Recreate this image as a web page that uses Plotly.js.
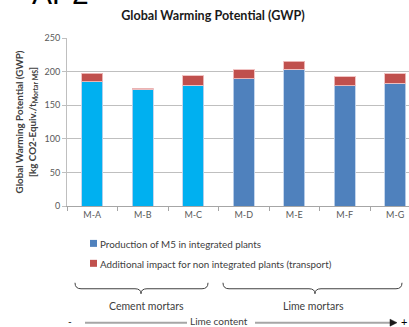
<!DOCTYPE html>
<html>
<head>
<meta charset="utf-8">
<script src="https://cdn.plot.ly/plotly-3.0.1.min.js"></script>
<style>html,body{margin:0;padding:0;background:#fff;}#chart{width:409px;height:327px;}</style>
</head>
<body>
<div id="chart"></div>
<script>
// ---- data ----
const categories = ["M-A", "M-B", "M-C", "M-D", "M-E", "M-F", "M-G"];
const production = [185, 173.5, 180, 189, 203.5, 179, 183];
const additional = [12.5, 1.5, 13.5, 13.5, 12, 13.5, 13.5];
const seriesNames = ["Production of M5 in integrated plants",
                     "Additional impact for non integrated plants (transport)"];
const groupLabels = ["Cement mortars", "Lime mortars"];
const yTicks = [0, 50, 100, 150, 200, 250];

// ---- styling ----
const W = 409, H = 327;
const ML = 67, MR = 0, MT = 37.5, MB = 121;
const PW = W - ML - MR, PH = H - MT - MB;
const lightBlue = "#00B0F0", steelBlue = "#4F81BD", red = "#C0504D";
const prodColors = categories.map((c, i) => i < 3 ? lightBlue : steelBlue);
const FONT = "Lato, 'Open Sans', sans-serif";

// pixel -> paper helpers (for decorations outside the plot)
const px = x => (x - ML) / PW;
const py = y => (MT + PH - y) / PH;
const pt = (x, y) => px(x).toFixed(4) + "," + py(y).toFixed(4);

function brace(x0, x1, xm, y0) {
  const d = 6, t = 11;
  return "M" + pt(x0, y0) +
    " Q" + pt(x0, y0 + d) + " " + pt(x0 + 6, y0 + d) +
    " L" + pt(xm - 6, y0 + d) +
    " Q" + pt(xm, y0 + d) + " " + pt(xm, y0 + t) +
    " Q" + pt(xm, y0 + d) + " " + pt(xm + 6, y0 + d) +
    " L" + pt(x1 - 6, y0 + d) +
    " Q" + pt(x1, y0 + d) + " " + pt(x1, y0);
}

const traces = [
  {type: "bar", x: categories, y: production, name: seriesNames[0],
   marker: {color: prodColors, line: {color: "rgba(190,210,235,0.9)", width: 1}},
   showlegend: false, hoverinfo: "x+y"},
  {type: "bar", x: categories, y: additional, name: seriesNames[1],
   marker: {color: red, line: {color: "rgba(240,190,190,0.9)", width: 1}},
   showlegend: false, hoverinfo: "x+y"}
];

const shapes = [
  // legend swatches
  {type: "rect", xref: "paper", yref: "paper", x0: px(90), x1: px(97), y0: py(240), y1: py(247),
   fillcolor: steelBlue, line: {width: 0}},
  {type: "rect", xref: "paper", yref: "paper", x0: px(90), x1: px(97), y0: py(260), y1: py(267),
   fillcolor: red, line: {width: 0}},
  // braces
  {type: "path", xref: "paper", yref: "paper", path: brace(75, 208, 141, 283),
   line: {color: "#404040", width: 1}},
  {type: "path", xref: "paper", yref: "paper", path: brace(223, 402, 315, 283),
   line: {color: "#404040", width: 1}},
  // lime content arrow
  {type: "line", xref: "paper", yref: "paper", x0: px(85), x1: px(187), y0: py(323), y1: py(323),
   line: {color: "#A6A6A6", width: 2}},
  {type: "line", xref: "paper", yref: "paper", x0: px(255), x1: px(391), y0: py(323), y1: py(323),
   line: {color: "#A6A6A6", width: 2}},
  {type: "path", xref: "paper", yref: "paper",
   path: "M" + pt(390, 319.5) + " L" + pt(397, 323) + " L" + pt(390, 326.5) + " Z",
   fillcolor: "#1a1a1a", line: {color: "#1a1a1a", width: 0.5}}
];

const ann = (x, y, text, opts) => Object.assign({
  xref: "paper", yref: "paper", x: px(x), y: py(y), text: text, showarrow: false,
  xanchor: "center", yanchor: "middle", font: {family: FONT, size: 9.8, color: "#404040"}
}, opts || {});

const annotations = [
  ann(30, -7, "AP2", {xanchor: "left", font: {family: "'Liberation Sans', Arial, sans-serif", size: 30, color: "#000"}}),
  ann(98, 244, seriesNames[0], {xanchor: "left"}),
  ann(98, 264, seriesNames[1], {xanchor: "left"}),
  ann(146, 306, groupLabels[0], {font: {family: FONT, size: 10.5, color: "#404040"}}),
  ann(313, 306, groupLabels[1], {font: {family: FONT, size: 10.5, color: "#404040"}}),
  ann(219, 321.5, "Lime content", {font: {family: FONT, size: 10, color: "#404040"}}),
  ann(70, 321.5, "-", {font: {family: FONT, size: 10, color: "#000"}}),
  ann(404, 321.5, "+", {font: {family: FONT, size: 11, color: "#000"}})
];

const layout = {
  width: W, height: H,
  margin: {l: ML, r: MR, t: MT, b: MB, pad: 0},
  paper_bgcolor: "#fff", plot_bgcolor: "#fff",
  barmode: "stack", bargap: 0.58,
  showlegend: false,
  font: {family: FONT, size: 9, color: "#595959"},
  title: {text: "<b>Global Warming Potential (GWP)</b>", x: 213 / W, xanchor: "center",
          y: 1 - 16 / H, yanchor: "middle",
          font: {family: FONT, size: 12.6, color: "#1a1a1a"}},
  xaxis: {
    type: "category", range: [-0.5, -0.5 + PW / 50.5], fixedrange: true,
    showgrid: false, showline: true, linecolor: "#A6A6A6", linewidth: 1,
    ticks: "outside", tickson: "boundaries", ticklen: 4, tickcolor: "#A6A6A6",
    tickfont: {family: FONT, size: 9, color: "#595959"}
  },
  yaxis: {
    range: [0, 250], tickvals: yTicks, fixedrange: true,
    showgrid: true, gridcolor: "#BFBFBF", gridwidth: 1,
    showline: true, linecolor: "#BFBFBF", linewidth: 1,
    ticks: "outside", ticklen: 4, tickcolor: "#BFBFBF",
    zeroline: false,
    tickfont: {family: FONT, size: 9, color: "#595959"},
    title: {text: "<b>Global Warming Potential (GWP)<br>[kg CO2-Equiv./t<sub>Mortar MS</sub>]</b>",
            standoff: 6, font: {family: FONT, size: 9.8, color: "#404040"}}
  },
  shapes: shapes,
  annotations: annotations
};

Plotly.newPlot("chart", traces, layout, {displayModeBar: false, staticPlot: true});
</script>
</body>
</html>
